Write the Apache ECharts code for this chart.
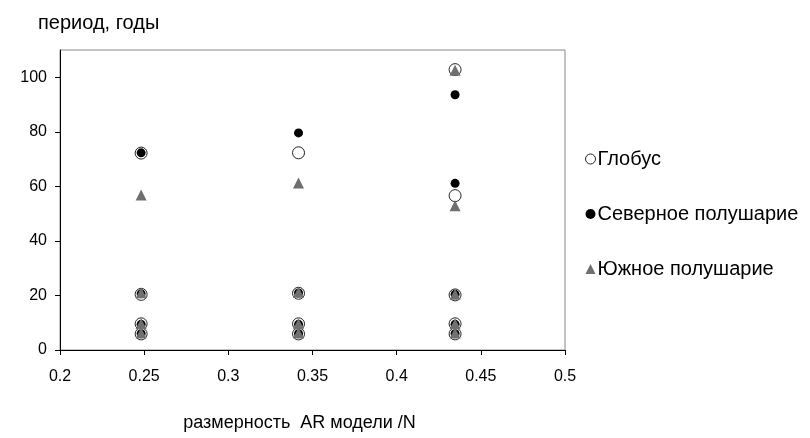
<!DOCTYPE html>
<html>
<head>
<meta charset="utf-8">
<script src="https://cdn.jsdelivr.net/npm/echarts@6/dist/echarts.min.js"></script>
<style>
  html, body { margin: 0; padding: 0; background: #fff; }
  #main { width: 810px; height: 438px; }
</style>
</head>
<body>
<div id="main"></div>
<script>
// размерность AR модели / N
var arDim = [0.2482, 0.3417, 0.4347];

// периоды, годы (по столбцам)
var globeCol1 = [72.2, 20.4, 9.6, 5.9];
var globeCol2 = [72.3, 20.8, 9.6, 5.9];
var globeCol3 = [102.8, 56.6, 20.2, 9.6, 5.9];

var northCol1 = [72.3, 20.6, 9.4, 6.0];
var northCol2 = [79.6, 20.9, 9.4, 6.0];
var northCol3 = [93.6, 61.1, 20.4, 9.4, 6.0];

var southCol1 = [56.8, 21.0, 9.6, 6.2];
var southCol2 = [61.2, 21.2, 9.6, 6.2];
var southCol3 = [102.6, 52.9, 20.4, 9.6, 6.2];

var yTicks = [0, 20, 40, 60, 80, 100];

function toPoints(cols) {
  var pts = [];
  cols.forEach(function (col, i) {
    col.forEach(function (v) {
      pts.push([arDim[i], v]);
    });
  });
  return pts;
}

var chartDom = document.getElementById("main");
var myChart = echarts.init(chartDom);
var option;

var font = "'Liberation Sans', Arial, sans-serif";

option = {
  animation: false,
  textStyle: { fontFamily: font },
  title: {
    text: "период, годы",
    left: 33,
    top: 8,
    textStyle: { fontSize: 20, fontWeight: "normal", color: "#000", fontFamily: font },
  },
  legend: {
    orient: "vertical",
    left: 580,
    top: 144,
    itemGap: 35,
    itemWidth: 10,
    itemHeight: 10,
    textStyle: { fontSize: 20, color: "#000", fontFamily: font, padding: [0, 0, 0, -3] },
    data: [
      { name: "Глобус", itemStyle: { color: "#fff", borderColor: "#222", borderWidth: 1 } },
      { name: "Северное полушарие" },
      { name: "Южное полушарие" },
    ],
  },
  grid: {
    left: 60,
    right: 245,
    top: 50,
    bottom: 88,
    outerBoundsMode: "none",
    show: true,
    borderColor: "#888",
    borderWidth: 1,
  },
  xAxis: {
    type: "value",
    min: 0.2,
    max: 0.5,
    interval: 0.05,
    name: "размерность  AR модели /N",
    nameLocation: "middle",
    nameGap: 64,
    nameTextStyle: { fontSize: 18, color: "#000", fontFamily: font, padding: [0, 26, 0, 0] },
    splitLine: { show: false },
    axisLine: { lineStyle: { color: "#000", width: 1 } },
    axisTick: { show: true, length: 5, lineStyle: { color: "#000" } },
    axisLabel: {
      fontSize: 16,
      color: "#000",
      margin: 19,
      formatter: function (v) {
        return String(Math.round(v * 100) / 100);
      },
    },
  },
  yAxis: {
    type: "value",
    min: 0,
    max: 110,
    interval: 20,
    splitLine: { show: false },
    axisLine: { show: true, lineStyle: { color: "#000", width: 1 } },
    axisTick: { show: true, length: 5, lineStyle: { color: "#000" }, customValues: yTicks },
    axisLabel: { fontSize: 16, color: "#000", margin: 13, customValues: yTicks },
  },
  series: [
    {
      name: "Глобус",
      type: "scatter",
      symbol: "circle",
      symbolSize: 12,
      itemStyle: { color: "#fff", borderColor: "#222", borderWidth: 1, opacity: 1 },
      data: toPoints([globeCol1, globeCol2, globeCol3]),
    },
    {
      name: "Северное полушарие",
      type: "scatter",
      symbol: "circle",
      symbolSize: 9,
      itemStyle: { color: "#000", opacity: 1 },
      data: toPoints([northCol1, northCol2, northCol3]),
    },
    {
      name: "Южное полушарие",
      type: "scatter",
      symbol: "triangle",
      symbolSize: 11,
      itemStyle: { color: "#6f6f6f", opacity: 1 },
      data: toPoints([southCol1, southCol2, southCol3]),
    },
  ],
};

option && myChart.setOption(option);
</script>
</body>
</html>
